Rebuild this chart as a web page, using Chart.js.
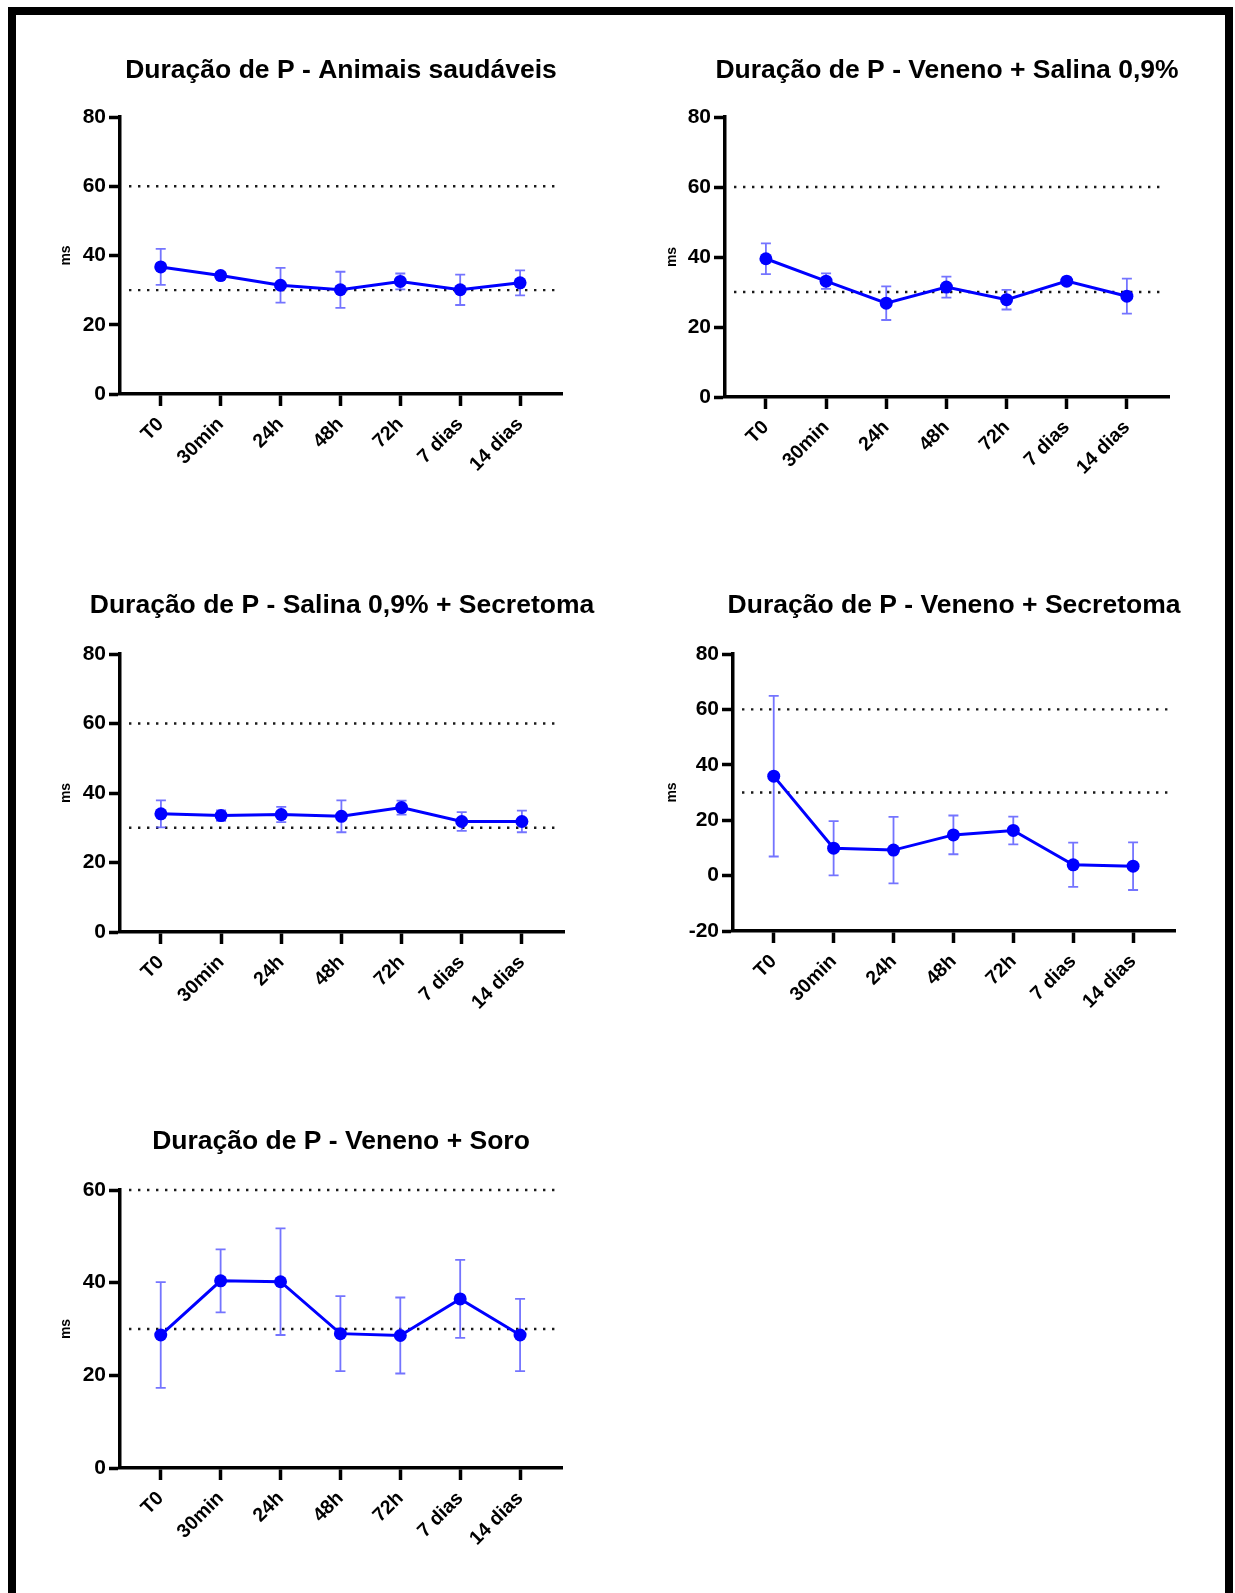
<!DOCTYPE html>
<html>
<head>
<meta charset="utf-8">
<title>Duração de P</title>
<script src="https://cdn.jsdelivr.net/npm/chart.js@4.4.0/dist/chart.umd.min.js"></script>
<style>
	body { margin: 0; background: #fff; }
	#page { position: relative; width: 1235px; height: 1593px; overflow: hidden; background: #fff; }
	#frame { position: absolute; left: 8px; top: 7px; width: 1225px; height: 1620px; box-sizing: border-box; border: 8px solid #000; border-bottom: none; }
	#page canvas { position: absolute; }
</style>
</head>
<body>
<div id="page">
	<div id="frame"></div>
</div>
<script>
// time points shared by every panel
var categories = ["T0", "30min", "24h", "48h", "72h", "7 dias", "14 dias"];
var refLines = [30, 60];

// mean and error (ms) per group
var saudaveisMean = [36.7, 34.2, 31.4, 30.1, 32.5, 30.1, 32.1];
var saudaveisErr  = [5.2, 1.0, 5.0, 5.2, 2.3, 4.4, 3.6];

var venenoSalinaMean = [39.5, 33.1, 26.8, 31.4, 27.8, 33.1, 28.8];
var venenoSalinaErr  = [4.4, 2.2, 4.8, 3.0, 2.8, 1.0, 5.0];

var salinaSecretomaMean = [34.0, 33.5, 33.8, 33.3, 35.8, 31.8, 31.8];
var salinaSecretomaErr  = [3.9, 1.5, 2.2, 4.6, 2.0, 2.7, 3.1];

var venenoSecretomaMean = [35.9, 9.9, 9.2, 14.7, 16.3, 3.9, 3.4];
var venenoSecretomaErr  = [29.0, 9.8, 12.0, 7.0, 5.0, 8.0, 8.6];

var venenoSoroMean = [28.7, 40.4, 40.2, 29.0, 28.6, 36.5, 28.7];
var venenoSoroErr  = [11.4, 6.8, 11.5, 8.1, 8.2, 8.4, 7.8];

// y axis ticks per panel
var yTicksDefault = [0, 20, 40, 60, 80];
var yTicksSecretoma = [-20, 0, 20, 40, 60, 80];
var yTicksSoro = [0, 20, 40, 60];

var FONT = "'Liberation Sans', Arial, Helvetica, sans-serif";
var BLUE = "rgb(0,0,255)";
var Y_BAND = 100, X_BAND = 100, PAD = 8;
var TITLE_SIZE = 26.5;

Chart.defaults.font.family = FONT;
Chart.defaults.color = "#000";

// dotted horizontal reference lines
var refLinePlugin = {
	id: "refLines",
	beforeDatasetsDraw: function(chart){
		var ctx = chart.ctx, area = chart.chartArea, y = chart.scales.y;
		ctx.save();
		ctx.strokeStyle = "#1a1a1a";
		ctx.lineWidth = 2.4;
		ctx.setLineDash([2.4, 6.6]);
		refLines.forEach(function(v){
			var py = y.getPixelForValue(v);
			ctx.beginPath();
			ctx.moveTo(area.left + 9, py);
			ctx.lineTo(area.right - 6, py);
			ctx.stroke();
		});
		ctx.restore();
	}
};

// vertical error bars with caps, under the points
var errorBarPlugin = {
	id: "errorBars",
	beforeDatasetsDraw: function(chart){
		var ctx = chart.ctx, x = chart.scales.x, y = chart.scales.y;
		var ds = chart.data.datasets[0];
		ctx.save();
		ctx.strokeStyle = "rgba(70,70,255,0.75)";
		ctx.lineWidth = 1.8;
		ds.data.forEach(function(p, i){
			var e = ds.errors[i];
			var px = x.getPixelForValue(p.x);
			var top = y.getPixelForValue(p.y + e);
			var bot = y.getPixelForValue(p.y - e);
			ctx.beginPath();
			ctx.moveTo(px, top); ctx.lineTo(px, bot);
			ctx.moveTo(px - 5, top); ctx.lineTo(px + 5, top);
			ctx.moveTo(px - 5, bot); ctx.lineTo(px + 5, bot);
			ctx.stroke();
		});
		ctx.restore();
	}
};

function makePanel(title, means, errs, yTicks, box){
	var canvas = document.createElement("canvas");
	var lh = TITLE_SIZE * 1.2;
	var cTop = Math.round(box.titleMid - PAD - lh / 2);
	var cLeft = box.left - Y_BAND;
	var titleGap = box.top - cTop - PAD - lh;
	// an empty band on the right mirrors the y axis so the title centres over the plot
	var w = 2 * Y_BAND + (box.right - box.left);
	var h = (box.top - cTop) + (box.bottom - box.top) + X_BAND + PAD;
	canvas.width = w; canvas.height = h;
	canvas.style.width = w + "px"; canvas.style.height = h + "px";
	canvas.style.left = cLeft + "px"; canvas.style.top = cTop + "px";
	document.getElementById("page").appendChild(canvas);

	var points = means.map(function(v, i){ return {x: i, y: v}; });

	return new Chart(canvas.getContext("2d"), {
		type: "line",
		data: {
			datasets: [{
				data: points,
				errors: errs,
				borderColor: BLUE,
				backgroundColor: BLUE,
				borderWidth: 3,
				pointRadius: 6.5,
				pointBorderWidth: 0,
				pointBackgroundColor: BLUE,
				tension: 0
			}]
		},
		options: {
			responsive: false,
			animation: false,
			devicePixelRatio: 1,
			layout: { padding: { top: PAD, bottom: PAD, left: 0, right: 0 } },
			plugins: {
				legend: { display: false },
				tooltip: { enabled: false },
				title: {
					display: true,
					text: title,
					color: "#000",
					font: { size: TITLE_SIZE, weight: "bold" },
					padding: { top: 0, bottom: titleGap }
				}
			},
			scales: {
				x: {
					type: "linear",
					min: -0.68,
					max: 6.7,
					afterBuildTicks: function(s){ s.ticks = categories.map(function(c, i){ return {value: i}; }); },
					afterFit: function(s){ s.height = X_BAND; },
					ticks: {
						autoSkip: false,
						minRotation: 45,
						maxRotation: 45,
						padding: 7,
						color: "#000",
						font: { size: 19.5, weight: "bold" },
						callback: function(v, i){ return categories[i]; }
					},
					grid: { drawOnChartArea: false, tickColor: "#000", tickWidth: 3.5, tickLength: 12 },
					border: { color: "#000", width: 3.5 }
				},
				y: {
					min: yTicks[0],
					max: yTicks[yTicks.length - 1],
					afterBuildTicks: function(s){ s.ticks = yTicks.map(function(v){ return {value: v}; }); },
					afterFit: function(s){ s.width = Y_BAND; },
					ticks: {
						padding: 3,
						color: "#000",
						font: { size: 21, weight: "bold" }
					},
					grid: { drawOnChartArea: false, tickColor: "#000", tickWidth: 3.5, tickLength: 11 },
					border: { color: "#000", width: 3.5 },
					title: {
						display: true,
						text: "ms",
						color: "#000",
						font: { size: 14, weight: "bold" },
						padding: { top: box.msX - cLeft - 14 * 1.2 / 2, bottom: 0 }
					}
				},
				spacer: {
					type: "linear",
					position: "right",
					afterFit: function(s){ s.width = Y_BAND; },
					ticks: { display: false },
					grid: { display: false },
					border: { display: false }
				}
			}
		},
		plugins: [refLinePlugin, errorBarPlugin]
	});
}

makePanel("Duração de P - Animais saudáveis", saudaveisMean, saudaveisErr, yTicksDefault,
	{left: 120, right: 562, top: 117, bottom: 394, titleMid: 71, msX: 66});
makePanel("Duração de P - Veneno + Salina 0,9%", venenoSalinaMean, venenoSalinaErr, yTicksDefault,
	{left: 725, right: 1169, top: 117, bottom: 397, titleMid: 71, msX: 672});
makePanel("Duração de P - Salina 0,9% + Secretoma", salinaSecretomaMean, salinaSecretomaErr, yTicksDefault,
	{left: 120, right: 564, top: 654, bottom: 932, titleMid: 606, msX: 66});
makePanel("Duração de P - Veneno + Secretoma", venenoSecretomaMean, venenoSecretomaErr, yTicksSecretoma,
	{left: 733, right: 1175, top: 654, bottom: 931, titleMid: 606, msX: 672});
makePanel("Duração de P - Veneno + Soro", venenoSoroMean, venenoSoroErr, yTicksSoro,
	{left: 120, right: 562, top: 1190, bottom: 1468, titleMid: 1142, msX: 66});
</script>
</body>
</html>
